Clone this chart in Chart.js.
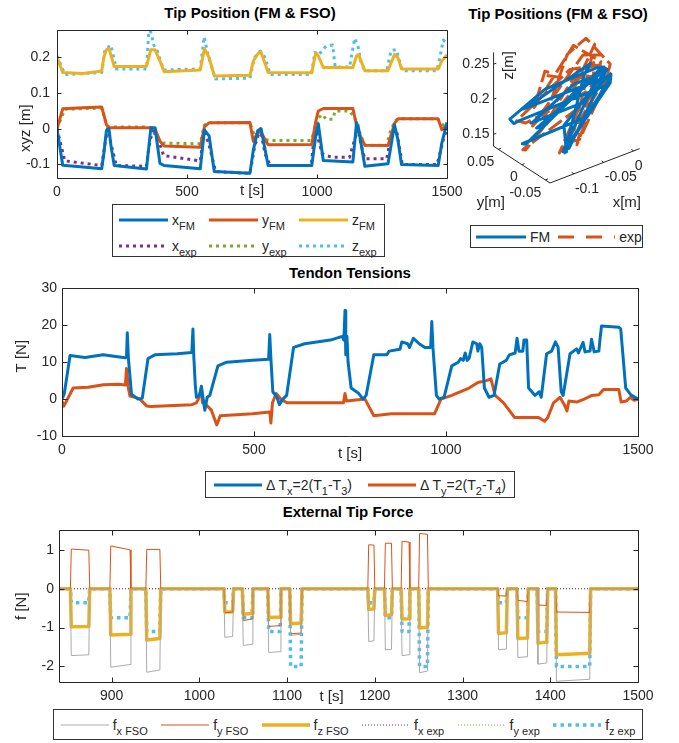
<!DOCTYPE html>
<html>
<head>
<meta charset="utf-8">
<script src="https://cdn.jsdelivr.net/npm/chart.js@4.4.1/dist/chart.umd.min.js"></script>
<style>
body{margin:0;background:#fff;width:679px;height:743px;position:relative;overflow:hidden;font-family:"Liberation Sans",Arial,sans-serif;color:#262626}
canvas{position:absolute}
.ttl{position:absolute;font-weight:bold;font-size:15px;color:#000;white-space:nowrap;transform:translate(-50%,-50%)}
.leg{position:absolute;border:1px solid #333;background:#fff;box-sizing:border-box;font-size:14px}
.it{display:flex;align-items:center;white-space:nowrap}
.it svg{margin-right:4px;flex:none}
sub{font-size:11px;vertical-align:-5px;line-height:0}
</style>
</head>
<body>
<div class="ttl" style="left:250px;top:12px">Tip Position (FM &amp; FSO)</div>
<div class="ttl" style="left:558px;top:13px">Tip Positions (FM &amp; FSO)</div>
<div class="ttl" style="left:350px;top:272px">Tendon Tensions</div>
<div class="ttl" style="left:348px;top:511px">External Tip Force</div>

<canvas id="cPos" width="470" height="185" style="left:0;top:15px"></canvas>
<canvas id="c3d" width="224" height="189" style="left:446px;top:26px"></canvas>
<canvas id="cTen" width="679" height="189" style="left:0;top:275px"></canvas>
<canvas id="cFor" width="679" height="189" style="left:0;top:517px"></canvas>

<!-- legends -->
<div class="leg" style="left:112px;top:204px;width:273px;height:53px;display:grid;grid-template-columns:90px 90px 90px;grid-auto-rows:26px;padding:2px 0 0 6px">
  <div class="it"><svg width="49" height="8"><line x1="0" y1="4" x2="49" y2="4" stroke="#0072BD" stroke-width="3"/></svg><span>x<sub>FM</sub></span></div>
  <div class="it"><svg width="49" height="8"><line x1="0" y1="4" x2="49" y2="4" stroke="#D95319" stroke-width="3"/></svg><span>y<sub>FM</sub></span></div>
  <div class="it"><svg width="49" height="8"><line x1="0" y1="4" x2="49" y2="4" stroke="#EDB120" stroke-width="3"/></svg><span>z<sub>FM</sub></span></div>
  <div class="it"><svg width="49" height="8"><line x1="0" y1="4" x2="49" y2="4" stroke="#7E2F8E" stroke-width="3" stroke-dasharray="3 4"/></svg><span>x<sub>exp</sub></span></div>
  <div class="it"><svg width="49" height="8"><line x1="0" y1="4" x2="49" y2="4" stroke="#77AC30" stroke-width="3" stroke-dasharray="3 4"/></svg><span>y<sub>exp</sub></span></div>
  <div class="it"><svg width="49" height="8"><line x1="0" y1="4" x2="49" y2="4" stroke="#4DBEEE" stroke-width="3" stroke-dasharray="3 4"/></svg><span>z<sub>exp</sub></span></div>
</div>

<div class="leg" style="left:470px;top:225px;width:173px;height:23px;display:flex;align-items:center;padding-left:5px">
  <div class="it"><svg width="50" height="8"><line x1="0" y1="4" x2="50" y2="4" stroke="#0072BD" stroke-width="3"/></svg><span>FM</span></div>
  <div class="it" style="margin-left:8px"><svg width="57" height="8"><line x1="0" y1="4" x2="57" y2="4" stroke="#D95319" stroke-width="3" stroke-dasharray="16 12"/></svg><span>exp</span></div>
</div>

<div class="leg" style="left:205px;top:471px;width:310px;height:27px;display:flex;align-items:center;justify-content:space-around">
  <div class="it"><svg width="48" height="8"><line x1="0" y1="4" x2="48" y2="4" stroke="#0072BD" stroke-width="3"/></svg><span>&Delta; T<sub>x</sub>=2(T<sub>1</sub>-T<sub>3</sub>)</span></div>
  <div class="it"><svg width="48" height="8"><line x1="0" y1="4" x2="48" y2="4" stroke="#D95319" stroke-width="3"/></svg><span>&Delta; T<sub>y</sub>=2(T<sub>2</sub>-T<sub>4</sub>)</span></div>
</div>

<div class="leg" style="left:53px;top:709px;width:590px;height:31px;display:flex;align-items:center;justify-content:space-around">
  <div class="it"><svg width="48" height="8"><line x1="0" y1="4" x2="48" y2="4" stroke="#AAAAAA" stroke-width="1"/></svg><span>f<sub>x FSO</sub></span></div>
  <div class="it"><svg width="48" height="8"><line x1="0" y1="4" x2="48" y2="4" stroke="#D95319" stroke-width="1"/></svg><span>f<sub>y FSO</sub></span></div>
  <div class="it"><svg width="48" height="8"><line x1="0" y1="4" x2="48" y2="4" stroke="#EDB120" stroke-width="3.5"/></svg><span>f<sub>z FSO</sub></span></div>
  <div class="it"><svg width="48" height="8"><line x1="0" y1="4" x2="48" y2="4" stroke="#7E2F8E" stroke-width="1" stroke-dasharray="1 2"/></svg><span>f<sub>x exp</sub></span></div>
  <div class="it"><svg width="48" height="8"><line x1="0" y1="4" x2="48" y2="4" stroke="#77AC30" stroke-width="1" stroke-dasharray="1 2"/></svg><span>f<sub>y exp</sub></span></div>
  <div class="it"><svg width="48" height="8"><line x1="0" y1="4" x2="48" y2="4" stroke="#4DBEEE" stroke-width="3.5" stroke-dasharray="3.5 4"/></svg><span>f<sub>z exp</sub></span></div>
</div>

<script>
const F = "'Liberation Sans', Arial, sans-serif";
Chart.defaults.font.family = F;
Chart.defaults.color = '#262626';

// ---------- tip position, model (FM) ----------
const tFM = [0, 22, 100, 172, 180, 190, 200, 208, 220, 344, 361, 377, 396, 412, 551, 567, 585, 605, 742, 755, 772, 785, 812, 980, 995, 1005, 1024, 1138, 1152, 1160, 1184, 1273, 1298, 1311, 1325, 1466, 1480, 1500];
const xFM = [0, -0.102, -0.107, -0.112, -0.07, -0.005, 0.0, -0.05, -0.103, -0.113, 0.003, 0.003, -0.097, -0.103, -0.112, -0.003, -0.02, -0.12, -0.125, -0.06, -0.005, 0.0, -0.103, -0.103, -0.02, 0.014, -0.089, -0.093, 0.017, 0.0, -0.105, -0.098, 0.011, -0.03, -0.1, -0.103, -0.04, 0.018];
const yFM = [0, 0.056, 0.059, 0.061, 0.04, 0.012, 0.003, 0.003, 0.003, 0.003, 0.003, 0.0, -0.035, -0.048, -0.052, 0.005, 0.017, 0.017, 0.018, -0.035, -0.01, -0.01, -0.045, -0.044, 0.02, 0.05, 0.057, 0.057, 0.01, -0.01, -0.046, -0.047, 0.015, 0.028, 0.028, 0.028, -0.003, 0.01];
const zFM = [0.2, 0.158, 0.155, 0.162, 0.2, 0.222, 0.225, 0.205, 0.175, 0.175, 0.222, 0.222, 0.19, 0.16, 0.165, 0.225, 0.2, 0.148, 0.15, 0.19, 0.21, 0.215, 0.158, 0.157, 0.213, 0.205, 0.172, 0.172, 0.205, 0.208, 0.163, 0.163, 0.208, 0.2, 0.168, 0.168, 0.19, 0.208];

// ---------- tip position, measured (exp) ----------
const tExp = [0, 30, 172, 185, 195, 207, 228, 344, 352, 359, 372, 385, 410, 551, 566, 583, 610, 742, 760, 782, 800, 820, 978, 992, 1005, 1020, 1035, 1060, 1070, 1125, 1145, 1158, 1168, 1184, 1268, 1285, 1305, 1328, 1462, 1486, 1500];
const xExp = [0, -0.09, -0.103, -0.04, 0.0, -0.04, -0.103, -0.105, -0.06, -0.03, 0.0, -0.02, -0.075, -0.09, -0.01, -0.04, -0.12, -0.125, -0.05, 0.0, -0.07, -0.103, -0.103, 0.005, -0.03, -0.07, -0.075, -0.08, -0.08, -0.08, -0.03, 0.0, -0.04, -0.084, -0.084, -0.02, 0.0, -0.1, -0.1, -0.03, 0.0];
const yExp = [0, 0.055, 0.058, 0.025, 0.005, 0.005, 0.005, 0.005, 0.005, 0.003, -0.01, -0.025, -0.04, -0.042, 0.01, 0.017, 0.017, 0.017, -0.02, -0.01, -0.03, -0.033, -0.033, 0.0, 0.03, 0.04, 0.027, 0.027, 0.05, 0.05, 0.03, 0.01, -0.02, -0.046, -0.046, 0.0, 0.025, 0.028, 0.028, 0.01, 0.008];
const zExp = [0.205, 0.152, 0.158, 0.225, 0.228, 0.235, 0.168, 0.168, 0.262, 0.276, 0.235, 0.22, 0.165, 0.168, 0.258, 0.2, 0.14, 0.142, 0.2, 0.218, 0.2, 0.152, 0.152, 0.215, 0.206, 0.22, 0.232, 0.235, 0.173, 0.173, 0.254, 0.23, 0.19, 0.163, 0.163, 0.22, 0.222, 0.163, 0.163, 0.249, 0.24];

const posXTicks = [0, 500, 1000, 1500];
const posYTicks = [-0.1, 0, 0.1, 0.2];

// ---------- 3D view ticks ----------
const x3Ticks = [-0.1, -0.05, 0], x3Labels = ['-0.1', '-0.05', '0'];
const y3Ticks = [-0.05, 0, 0.05], y3Labels = ['-0.05', '0', '0.05'];
const z3Ticks = [0.15, 0.2, 0.25], z3Labels = ['0.15', '0.2', '0.25'];

// ---------- tendon tensions ----------
const tTx = [0, 6, 21, 60, 107, 164, 168, 170, 173, 181, 198, 209, 224, 242, 300, 338, 341, 343, 347, 350, 358, 363, 367, 372, 378, 385, 406, 429, 496, 538, 541, 544, 549, 560, 566, 575, 585, 603, 632, 699, 730, 734, 737, 739, 742, 745, 753, 773, 784, 792, 812, 846, 852, 880, 885, 900, 905, 915, 930, 945, 960, 963, 966, 975, 982, 995, 1015, 1032, 1038, 1045, 1050, 1055, 1060, 1070, 1080, 1083, 1088, 1093, 1100, 1112, 1125, 1140, 1157, 1165, 1180, 1185, 1190, 1200, 1203, 1210, 1215, 1232, 1243, 1248, 1262, 1275, 1285, 1292, 1300, 1305, 1323, 1340, 1345, 1357, 1362, 1375, 1379, 1386, 1398, 1401, 1405, 1450, 1455, 1468, 1481, 1500];
const Tx  = [0, 1.5, 11.8, 11.3, 12, 11.2, 11.3, 18, 11, 1.3, 0, 0.2, 11, 12, 12.3, 12.6, 19, 12, 4, 0.5, 1, 3.5, 0.5, -3, 0.5, 1, 9, 10, 10.5, 10.8, 17.5, 11, 2, 0.5, -1.5, 0, 1, 14, 15, 16, 17, 16, 24, 12, 17, 10, 3, 1.5, 0, 1, 12, 12, 13, 13.5, 15.5, 15, 14, 16.5, 15, 14, 14, 21, 14, 1, 0, 0.5, 9, 10, 11, 10.5, 12.5, 10.5, 11, 15.5, 15, 13, 15, 14, 3, 0.5, 1, 9.5, 10.5, 12, 12.5, 16.5, 13, 13, 16, 16, 3, 1, 2, 0.5, 12.3, 13, 15.5, 14, 2, 1, 12.3, 13.6, 12.5, 15.4, 12.8, 13, 16.2, 12.8, 13, 16.2, 19.8, 19.5, 19, 3, 1.2, 0];
const tTy = [0, 5, 29, 68, 108, 147, 165, 168, 172, 177, 190, 203, 221, 231, 338, 350, 355, 362, 366, 375, 389, 403, 412, 496, 541, 544, 548, 558, 570, 586, 733, 737, 741, 789, 812, 857, 970, 987, 1015, 1038, 1060, 1083, 1105, 1117, 1128, 1139, 1150, 1179, 1241, 1257, 1265, 1280, 1297, 1308, 1315, 1320, 1340, 1360, 1380, 1398, 1410, 1450, 1456, 1470, 1480, 1490, 1500];
const Ty  = [-0.5, -1.9, 3, 3.2, 3.9, 4, 3.8, 8.3, 3.5, 0.8, 0.5, 0, -1.9, -2, -1.5, -1, 0, 2.5, -1, -1.5, -3, -7, -4.5, -4, -3.5, -6.5, -1, 1.5, 0, -1, -1, 1.5, -0.5, 0, -4.5, -4, -4, 0, 1, 2, 3, 4.5, 5, 5.5, 1, 0, -1, -5, -5, -6, -5, -1, 0.5, -1.5, -3.2, -0.5, -0.8, 0, 1, 1.2, 2.6, 2.6, -0.8, -0.5, 0.5, -0.3, 0];
const tenXTicks = [0, 500, 1000, 1500];
const tenYTicks = [-10, 0, 10, 20, 30];

// ---------- external tip force ----------
const tF = [840,
  853, 854, 874, 875,   898, 899, 921, 922,   939, 940, 955, 956,
  1028, 1029, 1038, 1039,   1049, 1050, 1060, 1061,   1078, 1079, 1092, 1093,   1103, 1104, 1116, 1117,
  1192, 1193, 1199, 1200,   1211, 1212, 1219, 1220,   1230, 1231, 1239, 1240,   1250, 1251, 1260, 1261,
  1340, 1341, 1350, 1351,   1362, 1363, 1374, 1375,   1385, 1386, 1396, 1397,   1406, 1407, 1445, 1446,
  1500];
const fxFSO = [0,
  0, -1.72, -1.70, 0,   0, -2.02, -1.95, 0,   0, -2.15, -2.09, 0,
  0, -1.25, -1.23, 0,   0, -1.46, -1.43, 0,   0, -1.64, -1.62, 0,   0, -1.20, -1.17, 0,
  0, -1.36, -1.34, 0,   0, -1.57, -1.56, 0,   0, -1.72, -1.70, 0,   0, -2.16, -2.12, 0,
  0, -1.57, -1.55, 0,   0, -1.77, -1.75, 0,   0, -1.94, -1.91, 0,   0, -2.38, -2.33, 0,
  0];
const fyFSO = [0,
  0, 1.02, 0.99, 0,   0, 1.10, 1.00, 0,   0, 1.01, 1.01, 0,
  0, -0.62, -0.60, 0,   0, -0.82, -0.78, 0,   0, -0.97, -0.95, 0,   0, -1.16, -1.14, 0,
  0, 1.13, 1.12, 0,   0, 1.17, 1.17, 0,   0, 1.22, 1.20, 0,   0, 1.42, 1.40, 0,
  0, -0.18, -0.19, 0,   0, -0.30, -0.33, 0,   0, -0.42, -0.43, 0,   0, -0.60, -0.61, 0,
  0];
const fzFSO = [0,
  0, -0.98, -0.97, 0,   0, -1.19, -1.17, 0,   0, -1.32, -1.28, 0,
  0, -0.60, -0.59, 0,   0, -0.66, -0.64, 0,   0, -0.74, -0.73, 0,   0, -0.90, -0.88, 0,
  0, -0.53, -0.52, 0,   0, -0.69, -0.67, 0,   0, -0.78, -0.77, 0,   0, -1.01, -0.99, 0,
  0, -1.15, -1.13, 0,   0, -1.28, -1.27, 0,   0, -1.40, -1.38, 0,   0, -1.70, -1.66, 0,
  0];
const fzExp = [0,
  0, -0.36, -0.36, 0,   0, -0.75, -0.75, 0,   0, -1.10, -1.10, 0,
  0, -0.36, -0.36, 0,   0, -0.75, -0.75, 0,   0, -1.10, -1.10, 0,   0, -2.00, -2.00, 0,
  0, -0.36, -0.36, 0,   0, -0.75, -0.75, 0,   0, -1.10, -1.10, 0,   0, -2.00, -2.00, 0,
  0, -0.36, -0.36, 0,   0, -0.75, -0.75, 0,   0, -1.10, -1.10, 0,   0, -2.00, -2.00, 0,
  0];
const tFexp = [840, 1500];
const fxExp = [0, 0];
const fyExp = [0, 0];
const forXTicks = [900, 1000, 1100, 1200, 1300, 1400, 1500];
const forYTicks = [-2, -1, 0, 1];

const C = {blue:'#0072BD', red:'#D95319', yellow:'#EDB120', purple:'#7E2F8E', green:'#77AC30', cyan:'#4DBEEE', gray:'#AAAAAA'};

function pts(t, v) { return t.map((ti, i) => ({x: ti, y: v[i]})); }

// axes box with inward ticks + axis labels, like matlab
const boxPlugin = {
  id: 'box',
  afterDatasetsDraw(chart, args, opts) {
    const {ctx, chartArea: a, scales: {x, y}} = chart;
    const L = opts.tick || 5;
    const l = Math.round(a.left) + 0.5, r = Math.round(a.right) + 0.5;
    const t = Math.round(a.top) + 0.5, b = Math.round(a.bottom) + 0.5;
    ctx.save();
    ctx.strokeStyle = '#262626';
    ctx.lineWidth = 1;
    ctx.beginPath();
    ctx.rect(l, t, r - l, b - t);
    x.ticks.forEach(tk => {
      const p = Math.round(x.getPixelForValue(tk.value)) + 0.5;
      ctx.moveTo(p, b); ctx.lineTo(p, b - L);
      ctx.moveTo(p, t); ctx.lineTo(p, t + L);
    });
    y.ticks.forEach(tk => {
      const p = Math.round(y.getPixelForValue(tk.value)) + 0.5;
      ctx.moveTo(l, p); ctx.lineTo(l + L, p);
      ctx.moveTo(r, p); ctx.lineTo(r - L, p);
    });
    ctx.stroke();

    ctx.font = '15px ' + F;
    ctx.fillStyle = '#262626';
    ctx.textAlign = 'center';
    ctx.textBaseline = 'middle';
    ctx.fillText(opts.xLab, (a.left + a.right) / 2 + opts.xDx, a.bottom + opts.xDy);
    ctx.translate(opts.yX, (a.top + a.bottom) / 2 + opts.yDy);
    ctx.rotate(-Math.PI / 2);
    ctx.fillText(opts.yLab, 0, 0);
    ctx.restore();
  }
};

function opts2d(o) {
  return {
    responsive: false, animation: false, devicePixelRatio: 1,
    layout: {padding: {top: 10, right: o.padR, left: 0, bottom: 0}},
    plugins: {legend: {display: false}, tooltip: {enabled: false}, box: o.box},
    elements: {point: {radius: 0}, line: {tension: 0, borderJoinStyle: 'round'}},
    scales: {
      x: {
        type: 'linear', min: o.xMin, max: o.xMax,
        grid: {display: false, drawTicks: false}, border: {display: false},
        ticks: {padding: 6, font: {size: 14}, maxRotation: 0, autoSkip: false, callback: v => String(v)},
        afterBuildTicks: s => { s.ticks = o.xTicks.map(v => ({value: v})); },
        afterFit: s => { s.height = o.xH; }
      },
      y: {
        type: 'linear', min: o.yMin, max: o.yMax,
        grid: {display: false, drawTicks: false}, border: {display: false},
        ticks: {padding: o.yPad, font: {size: 14}, autoSkip: false, callback: v => String(v)},
        afterBuildTicks: s => { s.ticks = o.yTicks.map(v => ({value: v})); },
        afterFit: s => { s.width = o.yW; }
      }
    }
  };
}

// ---- chart 1: tip position vs time ----
new Chart(document.getElementById('cPos'), {
  type: 'line',
  data: {datasets: [
    {data: pts(tFM, xFM), borderColor: C.blue, borderWidth: 3},
    {data: pts(tFM, yFM), borderColor: C.red, borderWidth: 3},
    {data: pts(tFM, zFM), borderColor: C.yellow, borderWidth: 3},
    {data: pts(tExp, xExp), borderColor: C.purple, borderWidth: 3, borderDash: [3, 4], borderCapStyle: 'butt'},
    {data: pts(tExp, yExp), borderColor: C.green, borderWidth: 3, borderDash: [3, 4], borderCapStyle: 'butt'},
    {data: pts(tExp, zExp), borderColor: C.cyan, borderWidth: 3, borderDash: [3, 4], borderCapStyle: 'butt'}
  ]},
  options: opts2d({xMin: 0, xMax: 1500, yMin: -0.138, yMax: 0.276, xTicks: posXTicks, yTicks: posYTicks,
                   xH: 22, yW: 57, padR: 23, yPad: 7,
                   box: {tick: 4, xLab: 't [s]', xDx: 0, xDy: 13, yLab: 'xyz [m]', yX: 26, yDy: 24}}),
  plugins: [boxPlugin]
});

// ---- chart 2: 3D trajectory (projected, matlab default view) ----
const view3 = {az: -37.5, el: 30, aspect: [1, 0.82, 0.96], ppu: 113, ox: 104, oy: 157};
const lim3 = {x: [-0.14, 0.01], y: [-0.06, 0.06], z: [0.133, 0.267]};
function proj(x, y, z) {
  const u = (x - lim3.x[0]) / (lim3.x[1] - lim3.x[0]) * view3.aspect[0];
  const v = (y - lim3.y[0]) / (lim3.y[1] - lim3.y[0]) * view3.aspect[1];
  const w = (z - lim3.z[0]) / (lim3.z[1] - lim3.z[0]) * view3.aspect[2];
  const az = view3.az * Math.PI / 180, el = view3.el * Math.PI / 180;
  return {
    x: Math.cos(az) * u + Math.sin(az) * v,
    y: -Math.sin(el) * Math.sin(az) * u + Math.sin(el) * Math.cos(az) * v + Math.cos(el) * w
  };
}
function pts3(xs, ys, zs) { return xs.map((x, i) => proj(x, ys[i], zs[i])); }

const axes3d = {
  id: 'axes3d',
  beforeDatasetsDraw(chart) {
    const {ctx, scales: {x: sx, y: sy}} = chart;
    const P = (x, y, z) => { const p = proj(x, y, z); return [sx.getPixelForValue(p.x), sy.getPixelForValue(p.y)]; };
    const [x0, x1] = lim3.x, [y0, y1] = lim3.y, [z0, z1] = lim3.z;
    const seg = (a, b) => { ctx.moveTo(a[0], a[1]); ctx.lineTo(b[0], b[1]); };
    ctx.save();
    ctx.strokeStyle = '#262626';
    ctx.lineWidth = 1;
    ctx.beginPath();
    seg(P(x0, y0, z0), P(x1, y0, z0));
    seg(P(x0, y0, z0), P(x0, y1, z0));
    seg(P(x0, y1, z0), P(x0, y1, z1));
    x3Ticks.forEach(v => seg(P(v, y0, z0), P(v, y0 + 0.04 * (y1 - y0), z0)));
    y3Ticks.forEach(v => seg(P(x0, v, z0), P(x0 + 0.03 * (x1 - x0), v, z0)));
    z3Ticks.forEach(v => seg(P(x0, y1, v), P(x0 + 0.03 * (x1 - x0), y1, v)));
    ctx.stroke();
    ctx.font = '14px ' + F;
    ctx.fillStyle = '#262626';
    ctx.textBaseline = 'middle';
    ctx.textAlign = 'left';
    x3Ticks.forEach((v, i) => { const p = P(v, y0, z0); ctx.fillText(x3Labels[i], p[0] + 1, p[1] + 15); });
    ctx.textAlign = 'right';
    y3Ticks.forEach((v, i) => { const p = P(x0, v, z0); ctx.fillText(y3Labels[i], p[0] - 4, p[1] + 13); });
    z3Ticks.forEach((v, i) => { const p = P(x0, y1, v); ctx.fillText(z3Labels[i], p[0] - 4, p[1]); });
    ctx.textAlign = 'center';
    ctx.font = '15px ' + F;
    let p = P((x0 + x1) / 2, y0, z0);
    ctx.fillText('x[m]', p[0] + 32, p[1] + 37);
    p = P(x0, (y0 + y1) / 2, z0);
    ctx.fillText('y[m]', p[0] - 31, p[1] + 38);
    p = P(x0, y1, z1);
    ctx.translate(p[0] + 15, p[1] + 13);
    ctx.rotate(-Math.PI / 2);
    ctx.fillText('z[m]', 0, 0);
    ctx.restore();
  }
};

const cv3 = document.getElementById('c3d');
new Chart(cv3, {
  type: 'scatter',
  data: {datasets: [
    {data: pts3(xFM, yFM, zFM), showLine: true, borderColor: C.blue, borderWidth: 3, pointRadius: 0, borderJoinStyle: 'round'},
    {data: pts3(xExp, yExp, zExp), showLine: true, borderColor: C.red, borderWidth: 3, pointRadius: 0, borderDash: [16, 5], borderJoinStyle: 'round'}
  ]},
  options: {
    responsive: false, animation: false, devicePixelRatio: 1,
    layout: {padding: 0},
    plugins: {legend: {display: false}, tooltip: {enabled: false}},
    scales: {
      x: {type: 'linear', display: false, min: -view3.ox / view3.ppu, max: (cv3.width - view3.ox) / view3.ppu},
      y: {type: 'linear', display: false, min: -(cv3.height - view3.oy) / view3.ppu, max: view3.oy / view3.ppu}
    }
  },
  plugins: [axes3d]
});

// ---- chart 3: tendon tensions ----
new Chart(document.getElementById('cTen'), {
  type: 'line',
  data: {datasets: [
    {data: pts(tTx, Tx), borderColor: C.blue, borderWidth: 3},
    {data: pts(tTy, Ty), borderColor: C.red, borderWidth: 3}
  ]},
  options: opts2d({xMin: 0, xMax: 1500, yMin: -10, yMax: 30, xTicks: tenXTicks, yTicks: tenYTicks,
                   xH: 28, yW: 62, padR: 41, yPad: 5,
                   box: {tick: 5, xLab: 't [s]', xDx: 0, xDy: 18, yLab: 'T [N]', yX: 22, yDy: -6}}),
  plugins: [boxPlugin]
});

// ---- chart 4: external tip force ----
new Chart(document.getElementById('cFor'), {
  type: 'line',
  data: {datasets: [
    {data: pts(tF, fxFSO), borderColor: C.gray, borderWidth: 1},
    {data: pts(tF, fyFSO), borderColor: C.red, borderWidth: 1},
    {data: pts(tF, fzFSO), borderColor: C.yellow, borderWidth: 3.5},
    {data: pts(tFexp, fxExp), borderColor: C.purple, borderWidth: 1, borderDash: [1, 2]},
    {data: pts(tFexp, fyExp), borderColor: C.green, borderWidth: 1, borderDash: [1, 2]},
    {data: pts(tF, fzExp), borderColor: C.cyan, borderWidth: 3.5, borderDash: [3.5, 4], borderCapStyle: 'butt'}
  ]},
  options: opts2d({xMin: 840, xMax: 1500, yMin: -2.4, yMax: 1.5, xTicks: forXTicks, yTicks: forYTicks,
                   xH: 24, yW: 59, padR: 41, yPad: 5,
                   box: {tick: 5, xLab: 't [s]', xDx: -17, xDy: 15, yLab: 'f [N]', yX: 22, yDy: 0}}),
  plugins: [boxPlugin]
});
</script>
</body>
</html>
